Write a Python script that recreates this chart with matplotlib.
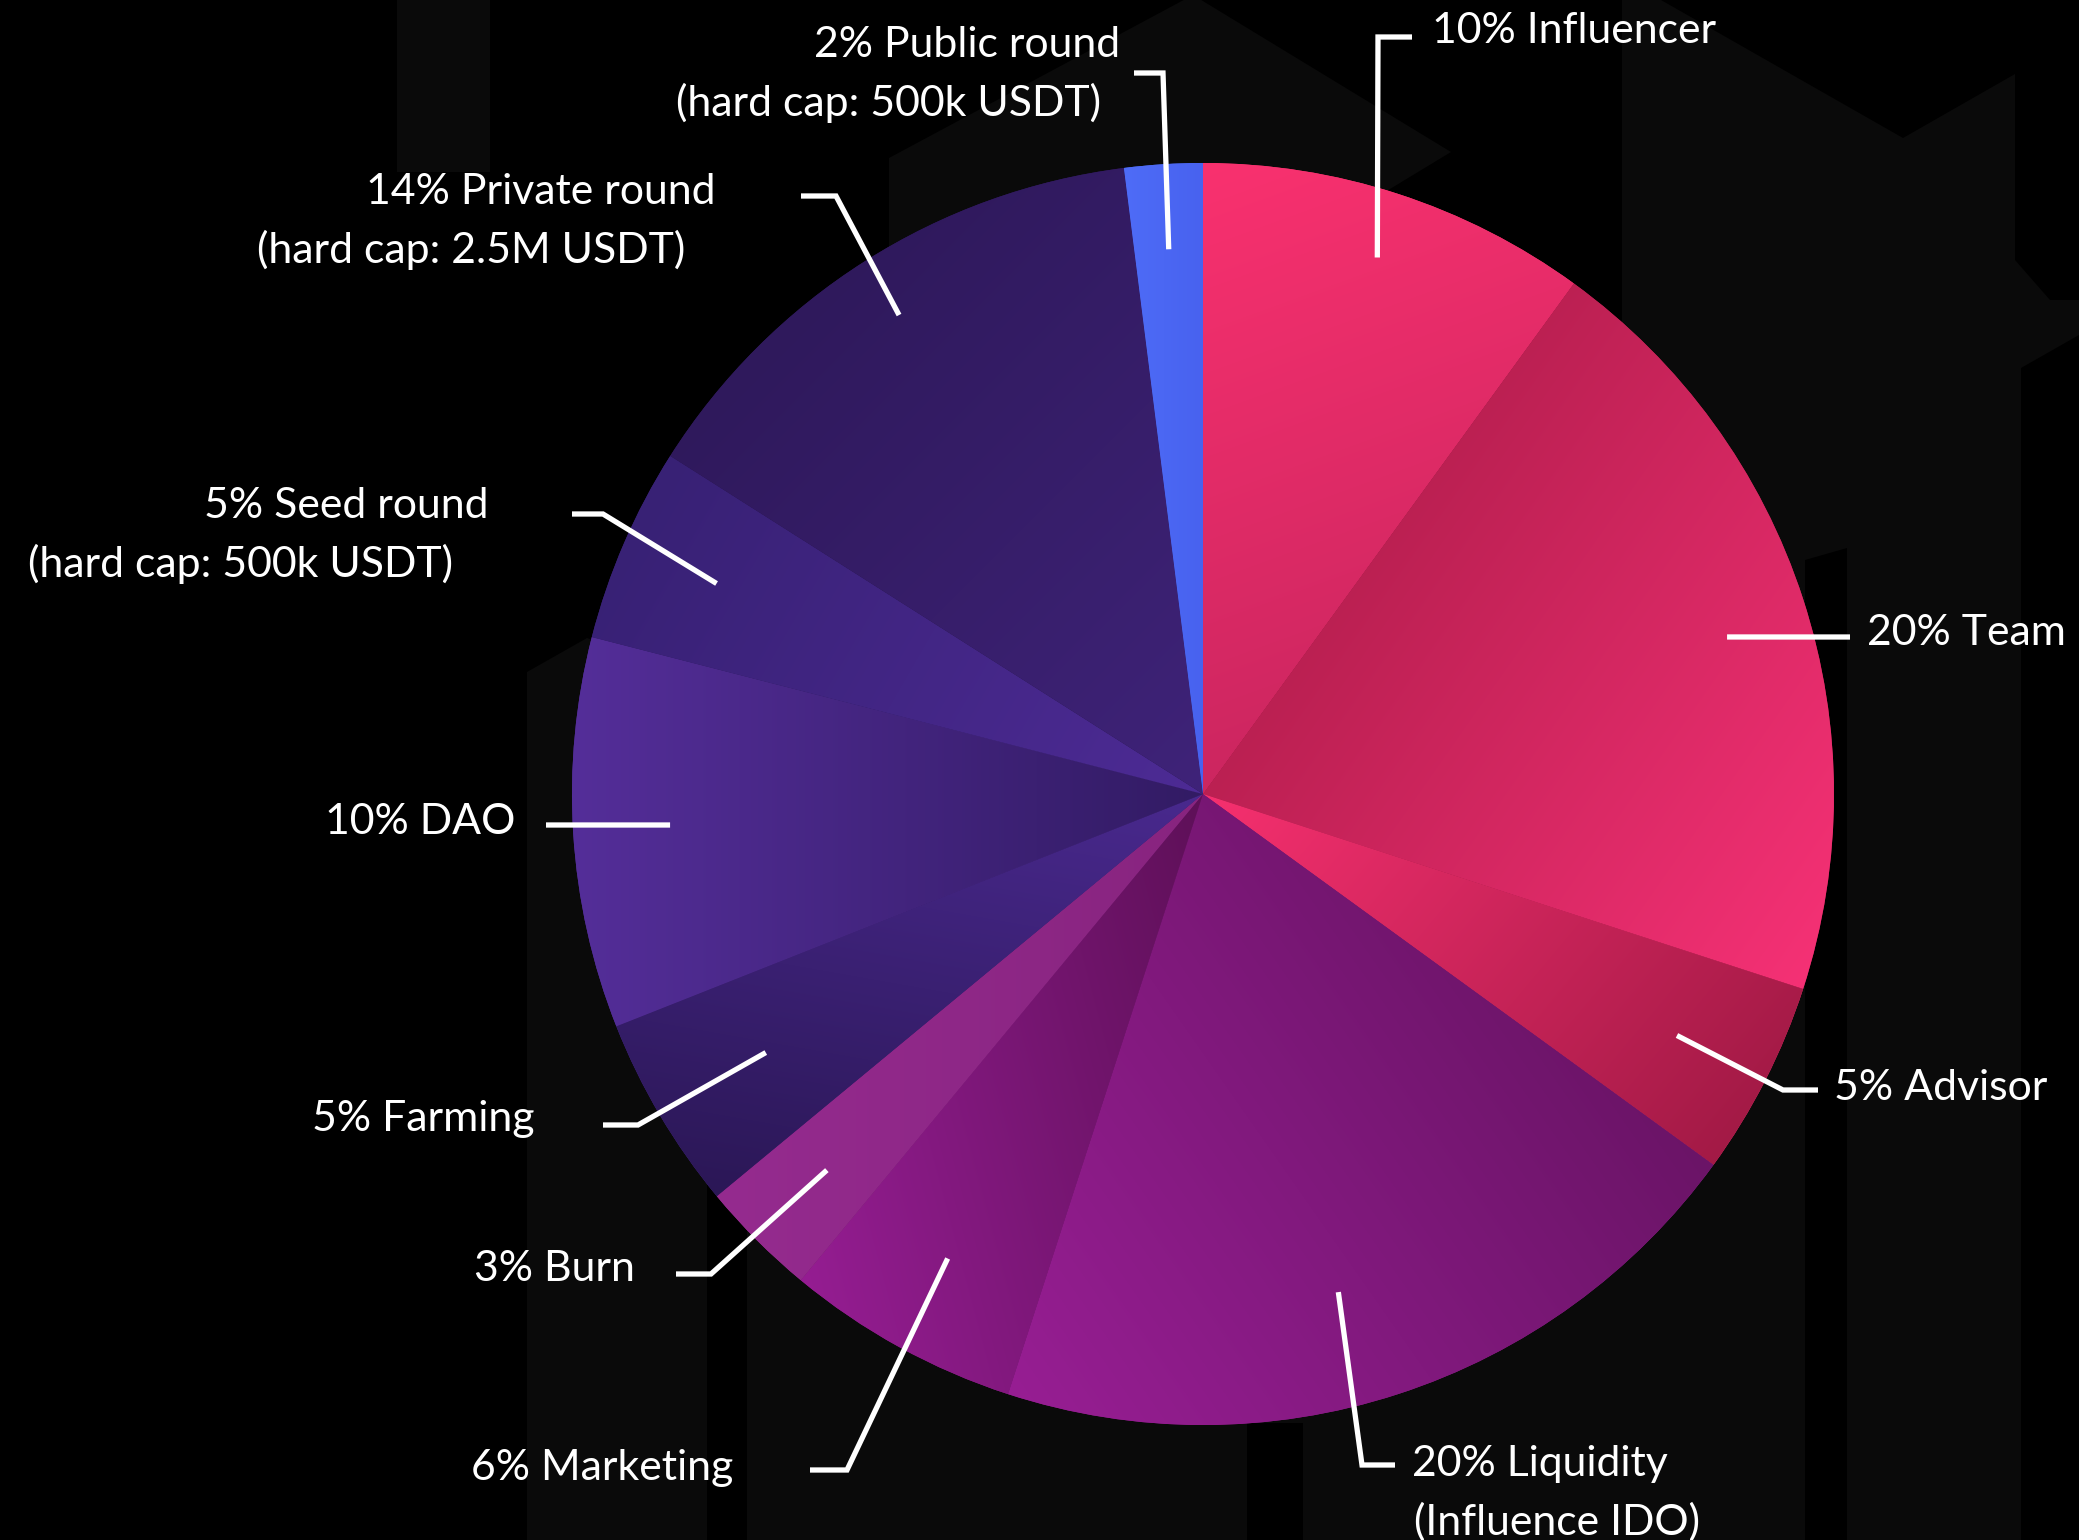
import numpy as np
import matplotlib
matplotlib.use("Agg")
import matplotlib.pyplot as plt
from matplotlib.patches import Polygon
from matplotlib.colors import to_rgb

W, H = 2079, 1540

# token allocation, clockwise from 12 o'clock
labels = ["Influencer", "Team", "Advisor", "Liquidity", "Marketing", "Burn",
          "Farming", "DAO", "Seed round", "Private round", "Public round"]
shares = [10, 20, 5, 20, 6, 3, 5, 10, 5, 14, 2]
notes = ["", "", "", "(Influence IDO)", "", "", "", "",
         "(hard cap: 500k USDT)", "(hard cap: 2.5M USDT)", "(hard cap: 500k USDT)"]

# linear gradient per slice: start colour, end colour, direction (deg)
grad_from = ["#f9316f", "#bb2052", "#f6306f", "#971e93", "#951d92", "#952b8f",
             "#49298e", "#542e99", "#382175", "#2f195c", "#4e6cf7"]
grad_to = ["#cc2660", "#f53175", "#a31a46", "#6b1467", "#5e1058", "#88247f",
           "#2b1756", "#321b64", "#4d2b95", "#3f2379", "#4862ef"]
grad_dir = [-70, -35, -40, 35, 15, 0, -100, 0, -30, -45, 0]

# leader layout (pixel coords, y measured from the top)
cx, cy, R = 1203, 794, 631
lead_r = [0.894, 0.867, 0.843, 0.818, 0.84, 0.843, 0.805, 0.846, 0.84, 0.899, 0.865]
lead_rot = [0, -1.32, 0, -2.8, 0, 0, 0, -0.27, 0, 0, 0]
lead_pts = [
    [(1378, 37), (1412, 37)],
    [(1850, 637)],
    [(1783, 1090), (1818, 1090)],
    [(1362, 1465), (1395, 1465)],
    [(847, 1470), (810, 1470)],
    [(711, 1274), (676, 1274)],
    [(638, 1125), (603, 1125)],
    [(546, 825)],
    [(603, 514), (572, 514)],
    [(836, 196), (801, 196)],
    [(1163, 73), (1134, 73)],
]
# (x centre, baseline) for each text line
text_pos = [
    [(1574, 43)],
    [(1966, 645)],
    [(1941, 1100)],
    [(1540, 1476), (1557, 1535)],
    [(602, 1480)],
    [(554, 1281)],
    [(423, 1131)],
    [(420, 834)],
    [(346, 518), (241, 577)],
    [(541, 204), (471, 263)],
    [(967, 57), (888, 116)],
]

# faint logo shapes in the backdrop
logo_grey = [
    [(397, 0), (490, 0), (490, 172), (397, 172)],
    [(889, 158), (1193, -5), (1451, 152), (1385, 192), (1385, 900), (889, 900)],
    [(527, 672), (587, 638), (707, 680), (707, 1540), (527, 1540)],
    [(747, 1150), (1622, 1150), (1622, 1540), (747, 1540)],
    [(1622, 0), (1661, 0), (1903, 138), (2015, 74), (2015, 260), (2050, 300),
     (2079, 300), (2079, 335), (2021, 368), (2021, 1540), (1622, 1540)],
]
logo_black = [
    [(1247, 1423), (1303, 1423), (1303, 1540), (1247, 1540)],
    [(1805, 560), (1847, 548), (1847, 1540), (1805, 1540)],
]


def up(pt):
    return (pt[0], H - pt[1])


fig = plt.figure(figsize=(W / 100, H / 100), dpi=100)
fig.patch.set_facecolor("black")
ax = fig.add_axes([0, 0, 1, 1])
ax.set_facecolor("black")

for poly in logo_grey:
    ax.add_patch(Polygon([up(p) for p in poly], closed=True, fc="#0a0a0a", ec="none", zorder=0))
for poly in logo_black:
    ax.add_patch(Polygon([up(p) for p in poly], closed=True, fc="#000000", ec="none", zorder=0.5))

ccx, ccy = cx, H - cy
wedges, _ = ax.pie(shares, startangle=90, counterclock=False, radius=R,
                   center=(ccx, ccy), wedgeprops=dict(linewidth=0), frame=True)

# gradient fill clipped to each wedge
n = 500
gx = np.linspace(ccx - R, ccx + R, n)
gy = np.linspace(ccy - R, ccy + R, n)
GX, GY = np.meshgrid(gx, gy)
for i, w in enumerate(wedges):
    w.set_facecolor(grad_from[i])
    w.set_zorder(1)
    th = np.radians(np.linspace(w.theta1, w.theta2, 60))
    px = np.concatenate([[ccx], ccx + R * np.cos(th)])
    py = np.concatenate([[ccy], ccy + R * np.sin(th)])
    d = np.radians(grad_dir[i])
    proj = (px - ccx) * np.cos(d) + (py - ccy) * np.sin(d)
    t = ((GX - ccx) * np.cos(d) + (GY - ccy) * np.sin(d) - proj.min()) / (proj.max() - proj.min())
    t = np.clip(t, 0, 1)[..., None]
    c0 = np.array(to_rgb(grad_from[i]))
    c1 = np.array(to_rgb(grad_to[i]))
    img = ax.imshow(c0 + t * (c1 - c0), extent=(ccx - R, ccx + R, ccy - R, ccy + R),
                    origin="lower", interpolation="bilinear", aspect="auto", zorder=2)
    img.set_clip_path(w)

# leader lines and labels
for i, w in enumerate(wedges):
    mid = np.radians((w.theta1 + w.theta2) / 2 + lead_rot[i])
    r = lead_r[i] * R
    path = [(ccx + r * np.cos(mid), ccy + r * np.sin(mid))] + [up(p) for p in lead_pts[i]]
    xs, ys = zip(*path)
    ax.plot(xs, ys, color="white", lw=3.8, solid_capstyle="butt",
            solid_joinstyle="miter", zorder=5)
    lines = [f"{shares[i]}% {labels[i]}"] + ([notes[i]] if notes[i] else [])
    for s, (tx, tb) in zip(lines, text_pos[i]):
        ax.text(tx, H - tb, s, ha="center", va="baseline", color="white",
                fontsize=30.8, family=["Lato", "DejaVu Sans"], zorder=6)

ax.set_xlim(0, W)
ax.set_ylim(0, H)
ax.set_aspect("equal")
ax.axis("off")

fig.savefig("out.png", dpi=100, facecolor="black")
